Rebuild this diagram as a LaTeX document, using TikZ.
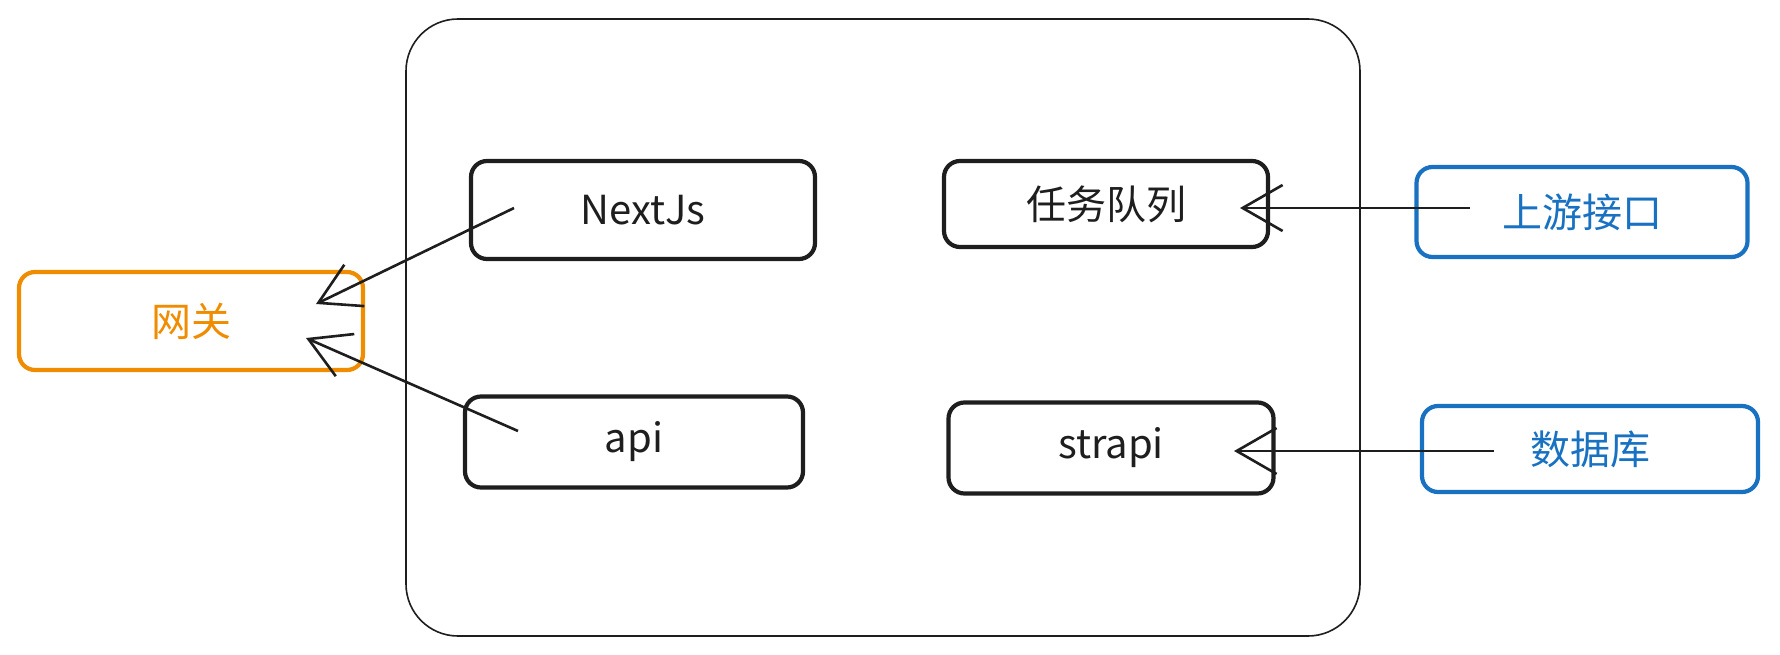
\documentclass[tikz,border=0pt]{standalone}
\usepackage{fontspec}
\setmainfont{Noto Sans CJK SC}
\usetikzlibrary{arrows.meta,calc}
\definecolor{ink}{HTML}{1E1E1E}
\definecolor{orng}{HTML}{F08C00}
\definecolor{blu}{HTML}{1971C2}
\tikzset{
  box/.style={draw=ink, line width=4.2pt, rounded corners=16pt, fill=white, text=ink, inner sep=0pt, font=\fontsize{40}{44}\selectfont},
  obox/.style={box, draw=orng, text=orng},
  bbox/.style={box, draw=blu, text=blu},
  conn/.style={draw=ink, line width=2.6pt, -{Straight Barb[length=40pt,width=46pt,line width=2.6pt]}},
  frame/.style={draw=ink, line width=1.6pt, rounded corners=52pt}
}
\begin{document}
\begin{tikzpicture}[x=1pt,y=-1pt]
\useasboundingbox (0,0) rectangle (1780,655);
\draw[frame] (406,19) rectangle (1360,636);
\node[box, minimum width=344pt, minimum height=98pt] (next) at (643,210) {NextJs};
\node[box, minimum width=338pt, minimum height=91pt] (api) at (634,442) {api};
\node[box, minimum width=324pt, minimum height=86pt] (queue) at (1106,204) {任务队列};
\node[box, minimum width=325pt, minimum height=91pt] (strapi) at (1111,448) {strapi};
\node[bbox, minimum width=331pt, minimum height=90pt] (up) at (1582,212) {上游接口};
\node[bbox, minimum width=336pt, minimum height=86pt] (db) at (1590,449) {数据库};
\node[obox, minimum width=344pt, minimum height=98pt] (gw) at (191,321) {网关};
\coordinate (nextS) at ($(next.center)+(-129,-2)$);
\coordinate (gwA) at ($(gw.center)+(125,-17)$);
\coordinate (apiS) at ($(api.center)+(-116,-11)$);
\coordinate (gwB) at ($(gw.center)+(115,17)$);
\coordinate (upS) at ($(up.center)+(-112,-4)$);
\coordinate (queueE) at ($(queue.center)+(134,4)$);
\coordinate (dbS) at ($(db.center)+(-96,2)$);
\coordinate (strapiE) at ($(strapi.center)+(123,3)$);
\draw[conn] (nextS) -- (gwA);
\draw[conn] (apiS) -- (gwB);
\draw[conn] (upS) -- (queueE);
\draw[conn] (dbS) -- (strapiE);
\end{tikzpicture}
\end{document}
